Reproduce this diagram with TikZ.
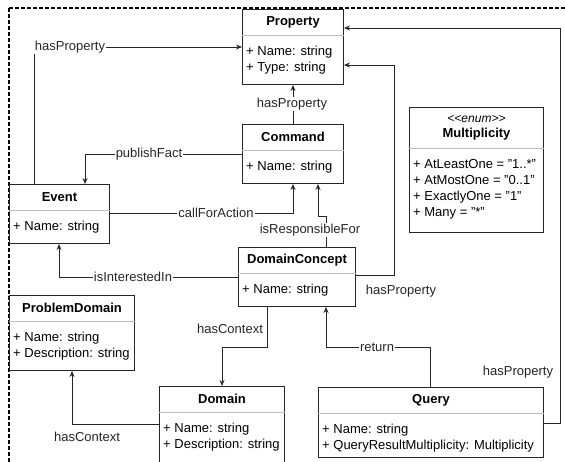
\documentclass[tikz,border=0pt]{standalone}
\usepackage{fontspec}
\setmainfont{Liberation Sans}
\usepackage{tikz}
\usetikzlibrary{arrows.meta,calc}

\tikzset{
  classbox/.style={draw=black!85, line width=1pt, anchor=north west, inner sep=0pt},
  divider/.style={draw=black!25, line width=0.8pt},
  classtitle/.style={font=\fontsize{13}{15}\selectfont\bfseries, align=center, inner sep=0pt},
  classattr/.style={font=\fontsize{13}{16}\selectfont, align=left, anchor=north west, inner sep=0pt},
  link/.style={draw=black!85, line width=0.8pt, -{Stealth[length=6pt,width=5pt]}},
  lbl/.style={fill=white, inner sep=1pt, font=\fontsize{13}{15}\selectfont, text=black!85}
}

% name, x, y, width, height, header height, title, attributes
\newcommand{\umlclass}[8]{%
  \node[classbox, minimum width=#4pt, minimum height=#5pt] (#1) at (#2,#3) {};
  \draw[divider] ([yshift=-#6pt]#1.north west) -- ([yshift=-#6pt]#1.north east);
  \node[classtitle] (#1-title) at ([yshift=-#6pt/2]#1.north) {#7};
  \node[classattr] (#1-attr) at ([xshift=4pt,yshift=-#6pt-9.3pt]#1.north west) {\strut #8};
}

\begin{document}
\begin{tikzpicture}[x=1pt,y=-1pt]
  \useasboundingbox (0,0) rectangle (565,461);
  \clip (0,0) rectangle (565,461);
  \draw[dashed, dash pattern=on 4pt off 2pt, line width=1.2pt] (9,8) rectangle (580,480);

  % classes
  \umlclass{prop}{242}{9}{101}{75}{26}{Property}{+ Name: string\\+ Type: string}
  \umlclass{cmd}{242}{124}{101}{59}{26}{Command}{+ Name: string}
  \umlclass{event}{9}{184}{100}{59}{26}{Event}{+ Name: string}
  \umlclass{dc}{238}{247}{117}{59}{26}{DomainConcept}{+ Name: string}
  \umlclass{pd}{9}{295}{125}{75}{26}{ProblemDomain}{+ Name: string\\+ Description: string}
  \umlclass{dom}{159}{386}{125}{78}{26}{Domain}{+ Name: string\\+ Description: string}
  \umlclass{query}{318}{387}{225}{70}{26}{Query}{+ Name: string\\+ QueryResultMultiplicity: Multiplicity}
  \umlclass{mult}{409}{107}{134}{125}{41}{{\normalfont\itshape\fontsize{12}{14}\selectfont <{}<enum>{}>}\\Multiplicity}{+ AtLeastOne = "1..*"\\+ AtMostOne = "0..1"\\+ ExactlyOne = "1"\\+ Many = "*"}

  % associations
  \draw[link] ([xshift=25pt]event.north west) |- ([yshift=-38pt]prop.north west);
  \node[lbl] (l-ev-prop) at (70,47) {hasProperty};

  \draw[link] (cmd.north) -- (prop.south);
  \node[lbl] (l-cmd-prop) at (292,104) {hasProperty};

  \draw[link] ([yshift=-30pt]cmd.north west) -| ([xshift=76pt]event.north west);
  \node[lbl] (l-cmd-ev) at (149,154) {publishFact};

  \draw[link] ([yshift=-29pt]event.north east) -| (cmd.south);
  \node[lbl] (l-ev-cmd) at (216,213) {callForAction};

  \draw[link] ([xshift=88pt]dc.north west) -- ++(0,-31) -| ([xshift=76pt]cmd.south west);
  \node[lbl] (l-dc-cmd) at (310,230) {isResponsibleFor};

  \draw[link] ([yshift=-28pt]dc.north east) -| ([xshift=50pt,yshift=-56pt]prop.north east) -- ([yshift=-56pt]prop.north east);
  \node[lbl] (l-dc-prop) at (401,291) {hasProperty};

  \draw[link] ([yshift=-30pt]dc.north west) -| ([xshift=50pt]event.south west);
  \node[lbl] (l-dc-ev) at (133,277) {isInterestedIn};

  \draw[link] ([xshift=29pt]dc.south west) -- ++(0,40) -| (dom.north);
  \node[lbl] (l-dc-dom) at (230,329) {hasContext};

  \draw[link] ([yshift=-38pt]dom.north west) -| (pd.south);
  \node[lbl] (l-dom-pd) at (87,437) {hasContext};

  \draw[link] ([xshift=112pt]query.north west) -- ++(0,-40) -| ([xshift=88pt]dc.south west);
  \node[lbl] (l-q-dc) at (377,347) {return};

  \draw[link] ([yshift=-36pt]query.north east) -- ++(16,0) |- ([yshift=-19pt]prop.north east);
  \node[lbl] (l-q-prop) at (518,372) {hasProperty};
\end{tikzpicture}
\end{document}
